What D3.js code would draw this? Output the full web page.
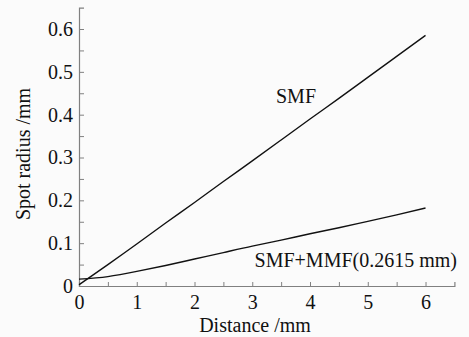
<!DOCTYPE html>
<html>
<head>
<meta charset="utf-8">
<script src="https://cdn.jsdelivr.net/npm/d3@7"></script>
<style>
  body { margin: 0; background: #fbfbfb; }
  svg { display: block; font-family: "Liberation Serif", "Times New Roman", serif; }
</style>
</head>
<body>
<div id="chart"></div>
<script>
// spot radius vs distance
var distance = [0, 0.5, 1, 1.5, 2, 2.5, 3, 3.5, 4, 4.5, 5, 5.5, 6];
var smfRadius = [0.003, 0.050, 0.098, 0.147, 0.195, 0.244, 0.292, 0.341, 0.390, 0.438, 0.487, 0.536, 0.585];
var mmfRadius = [0.016, 0.022, 0.034, 0.048, 0.063, 0.078, 0.093, 0.107, 0.122, 0.136, 0.151, 0.166, 0.182];
var xTicks = [0, 0.5, 1, 1.5, 2, 2.5, 3, 3.5, 4, 4.5, 5, 5.5, 6];
var yTicks = [0, 0.05, 0.1, 0.15, 0.2, 0.25, 0.3, 0.35, 0.4, 0.45, 0.5, 0.55, 0.6];
var seriesLabels = ["SMF", "SMF+MMF(0.2615 mm)"];

var width = 469, height = 337;
var fontSize = 20;
var fontFam = "'Liberation Serif', 'Times New Roman', serif";
var axisColor = "#808080";

var svg = d3.select("#chart")
  .append("svg")
  .attr("width", width)
  .attr("height", height);

var x = d3.scaleLinear().domain([0, 6.5]).range([79, 454.4]);
var y = d3.scaleLinear().domain([0, 0.65]).range([286, 7.6]);

// x axis, ticks pointing inward
var xAxis = svg.append("g")
  .attr("transform", "translate(0," + y(0) + ")")
  .call(d3.axisBottom(x)
    .tickValues(xTicks)
    .tickSizeInner(-4)
    .tickSizeOuter(-4)
    .tickPadding(9)
    .tickFormat(d => (d % 1 === 0 ? d : "")));

var yAxis = svg.append("g")
  .attr("transform", "translate(" + x(0) + ",0)")
  .call(d3.axisLeft(y)
    .tickValues(yTicks)
    .tickSizeInner(-5)
    .tickSizeOuter(-5)
    .tickPadding(6)
    .tickFormat(d => {
      var r = Math.round(d * 100);
      if (r % 10 !== 0) return "";
      return r === 0 ? "0" : d.toFixed(1);
    }));

[xAxis, yAxis].forEach(g => {
  g.attr("font-family", fontFam);
  g.select(".domain").attr("stroke", axisColor).attr("stroke-width", 1.2);
  g.selectAll(".tick line").attr("stroke", axisColor).attr("stroke-width", 1);
  g.selectAll(".tick text")
    .attr("fill", "#111")
    .style("font-size", fontSize + "px");
});

var line = d3.line()
  .x((d, i) => x(distance[i]))
  .y(d => y(d))
  .curve(d3.curveNatural);

svg.append("path")
  .datum(smfRadius)
  .attr("d", line)
  .attr("fill", "none")
  .attr("stroke", "#111")
  .attr("stroke-width", 1.4);

svg.append("path")
  .datum(mmfRadius)
  .attr("d", line)
  .attr("fill", "none")
  .attr("stroke", "#111")
  .attr("stroke-width", 1.4);

// series labels
svg.append("text")
  .attr("x", 276)
  .attr("y", 103)
  .attr("font-size", fontSize)
  .attr("fill", "#111")
  .text(seriesLabels[0]);

svg.append("text")
  .attr("x", 457)
  .attr("y", 267)
  .attr("text-anchor", "end")
  .attr("font-size", fontSize)
  .attr("fill", "#111")
  .text(seriesLabels[1]);

// axis titles
svg.append("text")
  .attr("x", 255)
  .attr("y", 332)
  .attr("text-anchor", "middle")
  .attr("font-size", fontSize)
  .attr("fill", "#111")
  .text("Distance /mm");

svg.append("text")
  .attr("transform", "translate(30,154) rotate(-90)")
  .attr("text-anchor", "middle")
  .attr("font-size", fontSize)
  .attr("fill", "#111")
  .text("Spot radius /mm");
</script>
</body>
</html>
